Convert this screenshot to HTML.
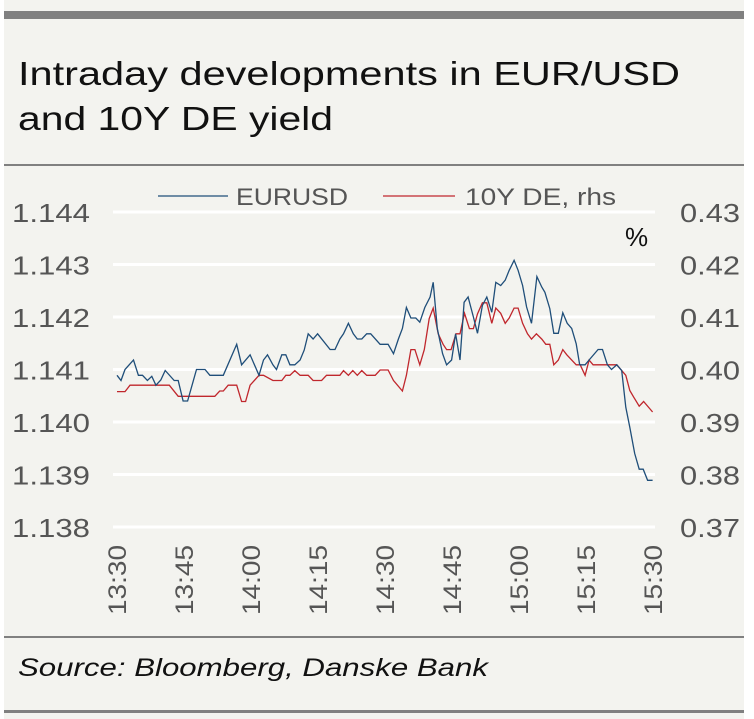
<!DOCTYPE html>
<html><head><meta charset="utf-8"><style>
html,body{margin:0;padding:0;background:#fff;}
#panel{position:absolute;left:4px;top:0;width:740px;height:719px;background:#f3f3ef;}
svg{position:absolute;left:0;top:0;}
text{font-family:"Liberation Sans",sans-serif;}
</style></head><body>
<div id="panel"></div>
<svg id="chart" width="754" height="719">
<rect x="4" y="11" width="740" height="8" fill="#808080"/>
<text x="18" y="85" font-size="33" fill="#111" textLength="662" lengthAdjust="spacingAndGlyphs">Intraday developments in EUR/USD</text>
<text x="18" y="130" font-size="33" fill="#111" textLength="315" lengthAdjust="spacingAndGlyphs">and 10Y DE yield</text>
<rect x="4" y="164" width="740" height="2" fill="#808080"/>
<g id="grid"></g>
<g id="yl"></g>
<g id="yr"></g>
<g id="xl"></g>
<text x="625" y="246" font-size="26" fill="#111">%</text>
<g>
<line x1="158" y1="196" x2="228" y2="196" stroke="#1f4e79" stroke-width="1.2"/>
<text x="236" y="205" font-size="24" fill="#555" textLength="112" lengthAdjust="spacingAndGlyphs">EURUSD</text>
<line x1="383" y1="196" x2="455" y2="196" stroke="#c0272d" stroke-width="1.2"/>
<text x="465" y="205" font-size="24" fill="#555" textLength="151" lengthAdjust="spacingAndGlyphs">10Y DE, rhs</text>
</g>
<path id="red" fill="none" stroke="#c0272d" stroke-width="1.3"/>
<path id="blue" fill="none" stroke="#1f4e79" stroke-width="1.3"/>
<rect x="4" y="636" width="740" height="2" fill="#808080"/>
<text x="18" y="676" font-size="25" font-style="italic" fill="#111" textLength="470" lengthAdjust="spacingAndGlyphs">Source: Bloomberg, Danske Bank</text>
<rect x="4" y="710" width="740" height="3" fill="#808080"/>
</svg>
<script>
const leftTicks=["1.144","1.143","1.142","1.141","1.140","1.139","1.138"];
const rightTicks=["0.43","0.42","0.41","0.40","0.39","0.38","0.37"];
const xTicks=["13:30","13:45","14:00","14:15","14:30","14:45","15:00","15:15","15:30"];
const eurMin=[0,0.9,1.8,3.7,4.8,5.7,6.8,7.8,8.7,9.8,10.8,12.8,13.7,14.8,15.8,17.8,19.7,20.8,23.8,26.8,27.9,29.8,31.8,32.8,33.7,34.9,35.7,36.9,37.8,38.7,39.8,41,41.9,42.8,43.9,44.9,47.7,48.8,49.9,50.7,51.8,52.9,53.8,54.8,55.9,56.8,58.9,60.7,61.9,63,63.9,64.8,65.8,66.9,67.8,68.9,70.1,70.8,71.7,72.9,73.8,74.9,75.8,76.8,77.7,78.6,79.8,80.7,81.8,82.8,83.9,84.8,85.9,86.9,87.8,88.9,89.8,90.8,91.7,92.8,94,95.1,95.8,96.9,97.8,98.8,99.8,100.8,101.8,102.8,103.6,104.8,105.7,107.7,108.7,109.8,110.7,111.9,113,113.9,114.8,115.9,116.9,117.8,118.8,119.9];
const eurVal=[1.14089,1.14079,1.1410,1.14118,1.14089,1.14089,1.14079,1.14087,1.14070,1.1408,1.14098,1.14079,1.14079,1.1404,1.1404,1.1410,1.1410,1.14089,1.14089,1.14148,1.14109,1.14128,1.14089,1.14118,1.14128,1.14109,1.1410,1.14128,1.14128,1.14109,1.14109,1.14118,1.14137,1.14168,1.14158,1.14168,1.14138,1.14138,1.14158,1.14168,1.14188,1.14168,1.14158,1.14158,1.14168,1.14168,1.14148,1.14148,1.1413,1.14158,1.14178,1.14218,1.14198,1.14198,1.1419,1.14218,1.14238,1.14266,1.14178,1.1413,1.14109,1.14118,1.14168,1.14118,1.14228,1.14238,1.142,1.14169,1.14222,1.14238,1.14209,1.14266,1.1426,1.1427,1.14289,1.14308,1.14289,1.1426,1.14219,1.14188,1.14277,1.14257,1.14247,1.14216,1.14169,1.14169,1.14208,1.14188,1.14178,1.14149,1.14109,1.14109,1.14118,1.14138,1.14138,1.14109,1.1410,1.14109,1.14098,1.14028,1.1399,1.1394,1.1391,1.1391,1.13889,1.13889];
const deMin=[0,1.8,2.9,11.7,13.7,21.9,23,23.8,24.9,26.8,27.9,28.8,29.8,31.8,32.8,34.9,36.9,37.8,38.7,39.8,41,42.8,43.9,45.8,46.9,49.9,50.7,51.8,52.8,53.8,54.8,55.9,57.8,58.9,60.7,61.9,63.9,64.8,65.8,66.7,67.8,68.8,69.9,70.8,71.9,73,73.8,74.8,75.9,76.8,77.8,78.9,79.8,80.7,81.8,82.8,83.9,84.8,85.9,86.9,87.8,88.9,89.8,90.8,91.9,92.8,93.9,95.1,96,96.9,97.8,98.8,99.8,100.7,102.8,103.7,104.8,105.7,106.6,111.9,113,113.9,114.8,115.7,116.9,117.9,119.9];
const deVal=[0.3958,0.3958,0.3970,0.3970,0.3949,0.3949,0.3959,0.3959,0.3970,0.3970,0.3939,0.3939,0.3970,0.3989,0.3989,0.3979,0.3979,0.3989,0.3989,0.3998,0.3989,0.3989,0.3979,0.3979,0.3989,0.3989,0.3998,0.3989,0.3998,0.3989,0.3998,0.3989,0.3989,0.3999,0.3999,0.3979,0.3959,0.3989,0.4038,0.4038,0.4009,0.4038,0.4097,0.4117,0.4068,0.4048,0.4038,0.4038,0.4068,0.4068,0.4107,0.4078,0.4078,0.4106,0.4127,0.4127,0.4088,0.4117,0.4107,0.4088,0.4098,0.4117,0.4117,0.4088,0.4068,0.4058,0.4068,0.4058,0.4048,0.4048,0.4009,0.4018,0.4038,0.4028,0.4009,0.4009,0.3989,0.4018,0.4009,0.4009,0.3998,0.3989,0.3960,0.3947,0.3930,0.3939,0.3919];
const X0=117,X1=653,YT=212,YB=527;
const xs=m=>X0+(X1-X0)*m/120;
const yL=v=>YT+(1.144-v)/0.006*(YB-YT);
const yR=v=>YT+(0.43-v)/0.06*(YB-YT);
const NS="http://www.w3.org/2000/svg";
function mk(tag,attrs,parent){const e=document.createElementNS(NS,tag);for(const k in attrs)e.setAttribute(k,attrs[k]);parent.appendChild(e);return e;}
const grid=document.getElementById('grid'),yl=document.getElementById('yl'),yr=document.getElementById('yr'),xl=document.getElementById('xl');
leftTicks.forEach((t,i)=>{
  const y=YT+i*(YB-YT)/6;
  const g=mk('line',{x1:113,x2:655,y1:y,y2:y,stroke:'#fff','stroke-width':3},grid);
  
  
  const a=mk('text',{x:12,y:y+10,'font-size':26,fill:'#555',textLength:78,lengthAdjust:'spacingAndGlyphs'},yl);a.textContent=t;
  
  
  const b=mk('text',{x:680,y:y+10,'font-size':26,fill:'#555',textLength:60,lengthAdjust:'spacingAndGlyphs'},yr);b.textContent=rightTicks[i];
  
  
});
xTicks.forEach((t,i)=>{
  const x=xs(i*15);
  const e=mk('text',{x:-70,y:0,'font-size':25,fill:'#555',textLength:70,lengthAdjust:'spacingAndGlyphs',transform:`translate(${x+9},545) rotate(-90)`},xl);
  e.textContent=t;
  
  
});
document.getElementById('blue').setAttribute('d',eurMin.map((m,i)=>(i?'L':'M')+xs(m).toFixed(1)+','+yL(eurVal[i]).toFixed(1)).join(''));
document.getElementById('red').setAttribute('d',deMin.map((m,i)=>(i?'L':'M')+xs(m).toFixed(1)+','+yR(deVal[i]).toFixed(1)).join(''));
</script>
</body></html>
